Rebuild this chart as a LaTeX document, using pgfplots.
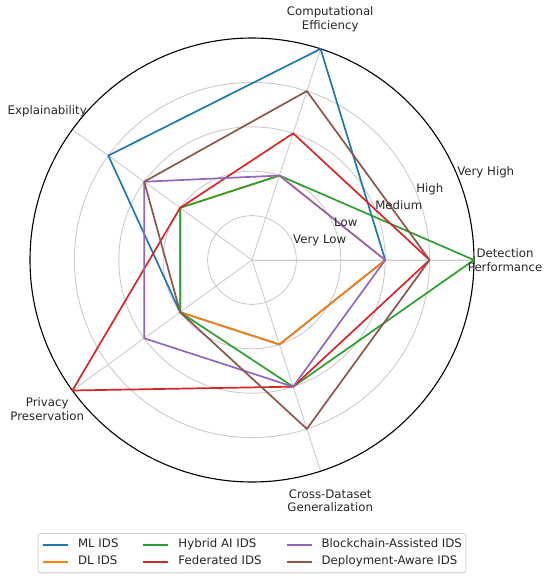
\documentclass[border=0pt]{standalone}
\usepackage{pgfplots}
\pgfplotsset{compat=1.18}
\usepgfplotslibrary{polar}
\usepackage{fontspec}
\setmainfont{DejaVu Sans}
\definecolor{mplblue}{HTML}{1F77B4}
\definecolor{mplorange}{HTML}{FF7F0E}
\definecolor{mplgreen}{HTML}{2CA02C}
\definecolor{mplred}{HTML}{D62728}
\definecolor{mplpurple}{HTML}{9467BD}
\definecolor{mplbrown}{HTML}{8C564B}
\begin{document}
\fontsize{11.8}{14}\selectfont
\begin{tikzpicture}
\path[use as bounding box] (-252bp,260bp) rectangle (298bp,-320bp);
\begin{polaraxis}[
  at={(0,0)}, anchor=origin,
  scale only axis, width=444bp, height=444bp,
  xmin=0, xmax=360, ymin=0, ymax=5,
  xtick={0,72,144,216,288}, ytick={1,2,3,4},
  xticklabels={,,,,}, yticklabels={,,,},
  tick label style={text opacity=0},
  major tick length=0pt,
  xmajorgrids, ymajorgrids,
  major grid style={draw=black!20, line width=0.9bp},
  separate axis lines,
  x axis line style={black, line width=1.1bp},
  y axis line style={draw=black!20, line width=0.9bp},
  clip=false,
  every axis plot/.append style={line width=1.7bp, line join=round},
  legend columns=2, transpose legend,
  legend cell align=left,
  legend image code/.code={\draw[#1, line width=2bp] (0bp,0bp) -- (25bp,0bp);},
  legend style={
    at={(0.5,-0.115)}, anchor=north,
    draw=black!20, line width=0.8bp, rounded corners=2.5bp,
    fill=white, text=black!85,
    inner xsep=4bp, inner ysep=5.2bp,
    nodes={inner sep=0pt, text height=9bp, text depth=3bp},
    row sep=5bp,
    /tikz/every odd column/.append style={column sep=9bp},
    /tikz/every even column/.append style={column sep=24bp},
  },
]
\addplot[mplblue]   coordinates {(0,3) (72,5) (144,4) (216,2) (288,2) (360,3)};
\addlegendentry{ML IDS}
\addplot[mplorange] coordinates {(0,3) (72,2) (144,2) (216,2) (288,2) (360,3)};
\addlegendentry{DL IDS}
\addplot[mplgreen]  coordinates {(0,5) (72,2) (144,2) (216,2) (288,3) (360,5)};
\addlegendentry{Hybrid AI IDS}
\addplot[mplred]    coordinates {(0,4) (72,3) (144,2) (216,5) (288,3) (360,4)};
\addlegendentry{Federated IDS}
\addplot[mplpurple] coordinates {(0,3) (72,2) (144,3) (216,3) (288,3) (360,3)};
\addlegendentry{Blockchain-Assisted IDS}
\addplot[mplbrown]  coordinates {(0,4) (72,4) (144,3) (216,2) (288,4) (360,4)};
\addlegendentry{Deployment-Aware IDS}

\begin{scope}[every node/.style={text=black!85}]
\node[align=center] at (axis cs:0,5.7) {Detection\\Performance};
\node[align=center] at (axis cs:72,5.7) {Computational\\Efficiency};
\node[align=center] at (axis cs:144,5.7) {Explainability};
\node[align=center] at (axis cs:216,5.7) {Privacy\\Preservation};
\node[align=center] at (axis cs:288,5.7) {Cross-Dataset\\Generalization};
\node[anchor=base west, inner sep=0pt] at (axis cs:22.5,1) {Very Low};
\node[anchor=base west, inner sep=0pt] at (axis cs:22.5,2) {Low};
\node[anchor=base west, inner sep=0pt] at (axis cs:22.5,3) {Medium};
\node[anchor=base west, inner sep=0pt] at (axis cs:22.5,4) {High};
\node[anchor=base west, inner sep=0pt] at (axis cs:22.5,5) {Very High};
\end{scope}
\end{polaraxis}
\end{tikzpicture}
\end{document}
